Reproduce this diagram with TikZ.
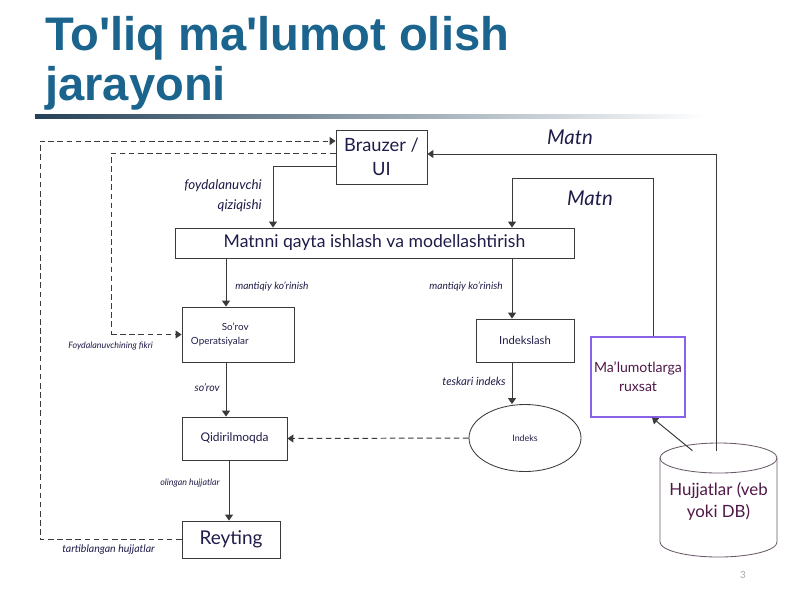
\documentclass[tikz,border=0pt]{standalone}
\usepackage{fontspec}
\setmainfont{Lato}
\newfontfamily\titlefont{Liberation Sans}
\usetikzlibrary{positioning,arrows.meta,shapes.geometric}
\definecolor{titleblue}{RGB}{26,100,142}
\definecolor{inkblue}{RGB}{30,28,72}
\definecolor{wire}{RGB}{58,58,58}
\definecolor{accessedge}{RGB}{138,98,232}
\definecolor{docplum}{RGB}{80,24,72}
\definecolor{docedge}{RGB}{105,90,105}
\tikzset{
    >={Triangle[length=4.2pt,width=5.6pt]},
    every node/.style={inner sep=0pt}
}

\begin{document}
\begin{tikzpicture}[x=0.025cm, y=-0.025cm,
  procbox/.style={rectangle, draw=wire, line width=0.6pt, text=inkblue, align=center},
  flow/.style={->, draw=wire, line width=0.7pt},
  feedback/.style={->, draw=wire, line width=0.7pt, dash pattern=on 4pt off 2.5pt},
  flowlabel/.style={text=inkblue, align=right},
  fs/.style={font=\fontsize{#1}{12}\selectfont},
  fsi/.style={font=\fontsize{#1}{12}\selectfont\itshape}
]
  \useasboundingbox (0,0) rectangle (800,600);

  % Title
  \node[anchor=base west, text=titleblue, font=\titlefont\bfseries\fontsize{33.5}{40}\selectfont] (title1) at (45,50) {To'liq ma'lumot olish};
  \node[anchor=base west, text=titleblue, font=\titlefont\bfseries\fontsize{33.5}{40}\selectfont] (title2) at (45,100) {jarayoni};
  \shade[left color={rgb,255:red,35;green,65;blue,88}, right color=white] (35,114) rectangle (705,118);

  % Column guides for the connectors
  \coordinate (ucol) at (273,0);
  \coordinate (qcol) at (226,0);
  \coordinate (rcol) at (229,0);
  \coordinate (icol) at (512,0);
  \coordinate (acol) at (653,0);
  \coordinate (dcol) at (716,0);
  \coordinate (ocol) at (40,0);
  \coordinate (fcol) at (111,0);

  % Process boxes
  \node[procbox, minimum width=2.275cm, minimum height=1.35cm, font=\fontsize{13}{17}\selectfont] (browser) at (381.5,157) {Brauzer /\\UI};
  \node[procbox, minimum width=9.975cm, minimum height=0.75cm, font=\fontsize{12.5}{15}\selectfont] (textproc) at (374.5,243) {Matnni qayta ishlash va modellashtirish};
  \node[procbox, align=left, text width=2.35cm, inner xsep=0.225cm, minimum height=1.375cm, font=\fontsize{7}{10.5}\selectfont] (queryops) at (238,334.5) {\hspace*{22pt}So’rov\\Operatsiyalar};
  \node[procbox, minimum width=2.625cm, minimum height=1.075cm, font=\fontsize{8.5}{10}\selectfont] (searching) at (234.5,438.5) {Qidirilmoqda};
  \node[procbox, minimum width=2.45cm, minimum height=0.925cm, font=\fontsize{13.5}{15}\selectfont] (ranking) at (231,539.5) {Reyting};
  \node[procbox, minimum width=2.45cm, minimum height=1.075cm, font=\fontsize{8}{10}\selectfont] (indexing) at (525,340.5) {Indekslash};
  \node[ellipse, draw=wire, line width=0.6pt, text=inkblue, minimum width=2.8cm, minimum height=1.675cm, font=\fontsize{6.3}{8}\selectfont] (index) at (525,438) {Indeks};
  \node[procbox, draw=accessedge, line width=0.8pt, text=docplum, minimum width=2.35cm, minimum height=2cm, font=\fontsize{10}{13.5}\selectfont] (access) at (638,377) {Ma’lumotlarga\\ruxsat};

  % Document store
  \draw[docedge, line width=0.6pt] (660,458) -- (660,542) arc[start angle=180, end angle=360, x radius=1.4625cm, y radius=0.375cm] -- (777,458);
  \draw[docedge, line width=0.6pt] (718.5,458) ellipse[x radius=1.4625cm, y radius=0.375cm];
  \node[text=docplum, align=center, minimum width=2.925cm, minimum height=2.5cm, font=\fontsize{12}{15.6}\selectfont] (docs) at (718.5,501) {Hujjatlar (veb\\yoki DB)};

  % Main flow
  \draw[flow] ([yshift=-0.225cm]browser.west) -| (textproc.north -| ucol);
  \draw[flow] (textproc.south -| qcol) -- (queryops.north -| qcol);
  \draw[flow] (textproc.south -| icol) -- (indexing.north -| icol);
  \draw[flow] (queryops.south -| qcol) -- (searching.north -| qcol);
  \draw[flow] (searching.south -| rcol) -- (ranking.north -| rcol);
  \draw[flow] (indexing.south -| icol) -- (index.north -| icol);
  \draw[flow] (docs.north -| dcol) |- ([yshift=0.075cm]browser.east);
  \draw[flow] (access.north -| acol) -- ++(0,-158) -| (textproc.north -| icol);
  \draw[flow] ([xshift=-0.65cm]docs.north) -- ([xshift=0.35cm]access.south);

  % Feedback loops
  \draw[feedback] (index.west) -- (searching.east);
  \draw[feedback] (ranking.west) -- (ranking.west -| ocol) |- ([yshift=0.4cm]browser.west);
  \draw[feedback, -] ([yshift=0.1cm]browser.west) -| (fcol |- queryops.west);
  \draw[feedback] (fcol |- queryops.west) -- (queryops.west);

  % Labels
  \node[flowlabel, font=\fontsize{9.5}{14}\selectfont\itshape, anchor=east] (interest) at (262,196) {foydalanuvchi\\qiziqishi};
  \node[flowlabel, fsi=7.2, anchor=west] (logview1) at (235,287) {mantiqiy ko’rinish};
  \node[flowlabel, fsi=7.2, anchor=east] (logview2) at (503,287) {mantiqiy ko’rinish};
  \node[flowlabel, fsi=7.5, anchor=east] (querylbl) at (220,388) {so’rov};
  \node[flowlabel, fsi=8, anchor=east] (invlbl) at (506,381) {teskari indeks};
  \node[flowlabel, fsi=6.3, anchor=east] (gotlbl) at (220,483) {olingan hujjatlar};
  \node[flowlabel, fsi=7.5, anchor=west] (rankedlbl) at (62,550) {tartiblangan hujjatlar};
  \node[flowlabel, fsi=6.3, anchor=west] (feedlbl) at (68,346) {Foydalanuvchining fikri};
  \node[flowlabel, fsi=14.5] (text1) at (570,137) {Matn};
  \node[flowlabel, fsi=14.5] (text2) at (590,198) {Matn};

  \node[text=gray!70, fs=7] (pagenum) at (743,575) {3};
\end{tikzpicture}
\end{document}
